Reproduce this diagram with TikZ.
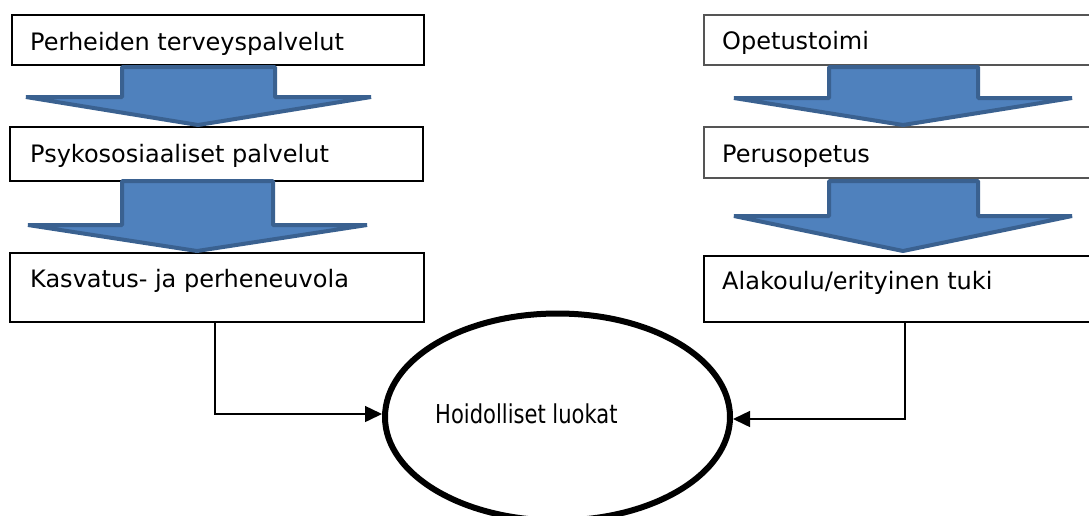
\documentclass[tikz,border=0pt]{standalone}
\usepackage{fontspec}
\usepackage{graphicx}
\setmainfont{DejaVu Sans}
\usetikzlibrary{shapes.geometric,arrows.meta}
\definecolor{arrowfill}{HTML}{4F81BD}
\definecolor{arrowline}{HTML}{3A6190}
\definecolor{boxgrey}{HTML}{555555}

\tikzset{
  box/.style={draw=black, line width=1.1pt, rectangle, inner sep=0pt, outer sep=0pt, anchor=north west},
  greybox/.style={box, draw=boxgrey},
  lbl/.style={inner sep=0pt, anchor=base west, font=\fontsize{24}{29}\selectfont},
  blockarrow/.style={fill=arrowfill, draw=arrowline, line width=4pt, line join=bevel},
  ring/.style={ellipse, draw=black, line width=6pt, inner sep=0pt},
  ledge/.style={draw=black, line width=2pt},
  conn/.style={draw=black, line width=1.5pt, -{Triangle[length=17pt,width=16pt]}}
}

\begin{document}
\begin{tikzpicture}[x=1pt, y=-1pt]
  \useasboundingbox (0,0) rectangle (1089,515);
  \clip (0,0) rectangle (1089,515);

  % left column of service boxes
  \node[box, minimum width=412pt, minimum height=50pt] (b1) at (12,15) {};
  \node[box, minimum width=413pt, minimum height=54pt] (b2) at (10,127) {};
  \node[box, minimum width=414pt, minimum height=69pt] (b3) at (10,253) {};

  % right column of school boxes (running off the right edge)
  \node[greybox, minimum width=400pt, minimum height=50pt] (b4) at (704,15) {};
  \node[greybox, minimum width=400pt, minimum height=51pt] (b5) at (704,127) {};
  \node[box, minimum width=400pt, minimum height=66pt] (b6) at (704,256) {};

  % box labels
  \node[lbl] (t1) at (30,50) {Perheiden terveyspalvelut};
  \node[lbl] (t2) at (30,162) {Psykososiaaliset palvelut};
  \node[lbl] (t3) at (30,287.5) {Kasvatus- ja perheneuvola};
  \node[lbl] (t4) at (722,49) {Opetustoimi};
  \node[lbl] (t5) at (722,162) {Perusopetus};
  \node[lbl] (t6) at (722,289) {Alakoulu/erityinen tuki};

  % wide block arrows between the boxes
  \draw[blockarrow] (122,67) -- (275,67) -- (275,97) -- (371,97) -- (198,125)
        -- (26,97) -- (122,97) -- cycle;
  \draw[blockarrow] (122,181) -- (273,181) -- (273,225) -- (367,225) -- (197,251)
        -- (28,225) -- (122,225) -- cycle;
  \draw[blockarrow] (829,67) -- (978,67) -- (978,98) -- (1072,98) -- (903,125)
        -- (734,98) -- (829,98) -- cycle;
  \draw[blockarrow] (829,181) -- (978,181) -- (978,216) -- (1072,216) -- (903,251)
        -- (734,216) -- (829,216) -- cycle;

  % target ellipse
  \node[ring, minimum width=345pt, minimum height=207pt] (ell) at (557.5,417) {};
  \node[lbl, font=\fontsize{26}{31}\selectfont] (et) at (435,423.5)
        {\scalebox{0.81}[1]{Hoidolliset luokat}};

  % connectors into the ellipse
  \coordinate (ls) at (57,322);
  \coordinate (lj) at (215,322);
  \coordinate (rs) at (1077,322);
  \coordinate (rj) at (905,322);
  \draw[ledge] (ls) -- (lj);
  \draw[ledge] (rs) -- (rj);
  \draw[conn] (lj) |- ([yshift=3pt]ell.west);
  \draw[conn] (rj) |- ([yshift=-2pt]ell.east);
\end{tikzpicture}
\end{document}
